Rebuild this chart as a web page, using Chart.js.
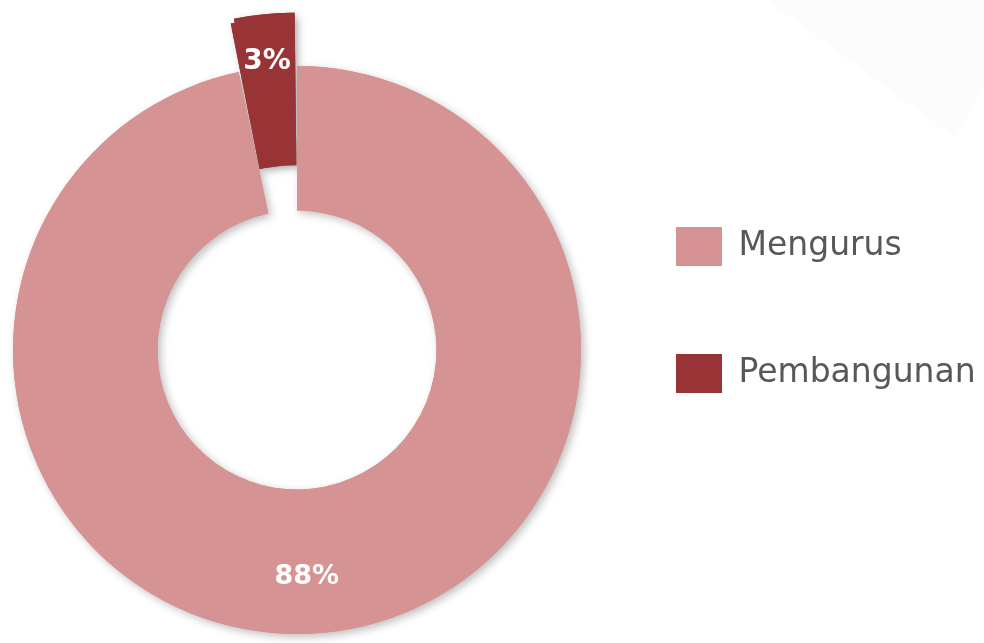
<!DOCTYPE html>
<html>
<head>
<meta charset="utf-8">
<script src="https://cdn.jsdelivr.net/npm/chart.js@4.4.1/dist/chart.umd.min.js"></script>
<style>
  html, body { margin: 0; padding: 0; background: #ffffff; width: 984px; height: 643px; overflow: hidden; }
  #bgShape { position: absolute; left: 0; top: 0; width: 984px; height: 643px;
    background: #fcfcfc; clip-path: polygon(767px 0, 984px 0, 984px 85px, 955px 138px); }
  #wrap { position: absolute; left: 0; top: 0; width: 984px; height: 643px; }
</style>
</head>
<body>
<div id="bgShape"></div>
<div id="wrap"><canvas id="c" width="984" height="643"></canvas></div>
<script>
// ---- data ----
const categories = ['Mengurus', 'Pembangunan'];
const values = [88, 3];
const valueLabels = ['88%', '3%'];
const colors = ['#D59493', '#993436'];

const LEGEND_WIDTH = 396;

const legendWidthPlugin = {
  id: 'legendWidth',
  beforeUpdate(chart) {
    const lg = chart.legend;
    if (lg && !lg._patchedFit) {
      const orig = lg.fit.bind(lg);
      lg.fit = function () { orig(); this.width = LEGEND_WIDTH; };
      lg._patchedFit = true;
    }
  }
};

// draw a shadow pass underneath; the normal draw then covers it cleanly
const shadowPlugin = {
  id: 'ringShadow',
  beforeDatasetsDraw(chart) {
    const ctx = chart.ctx;
    const meta = chart.getDatasetMeta(0);
    ctx.save();
    ctx.shadowColor = 'rgba(0,0,0,0.26)';
    ctx.shadowBlur = 9;
    ctx.shadowOffsetX = 3;
    ctx.shadowOffsetY = 3;
    meta.data.forEach(a => a.draw(ctx));
    ctx.restore();
  }
};

const sliceLabelPlugin = {
  id: 'sliceLabels',
  afterDatasetsDraw(chart, args, opts) {
    const ctx = chart.ctx;
    const meta = chart.getDatasetMeta(0);
    meta.data.forEach((arc, i) => {
      const p = arc.getProps(['x', 'y', 'startAngle', 'endAngle', 'innerRadius', 'outerRadius', 'circumference']);
      const o = arc.options;
      const T = (o.offset || 0) / 4;
      const fix = 1 - Math.sin(Math.min(Math.PI, p.circumference || 0));
      const ro = T * fix;
      const mid = (p.startAngle + p.endAngle) / 2;
      const cx = p.x + Math.cos(mid) * T;
      const cy = p.y + Math.sin(mid) * T;
      const ang = p.startAngle + (p.endAngle - p.startAngle) * opts.angleFrac[i];
      const r = p.innerRadius + ro + (p.outerRadius - p.innerRadius) * opts.radiusFrac[i];
      ctx.save();
      ctx.fillStyle = '#ffffff';
      ctx.font = opts.fonts[i];
      ctx.textAlign = 'center';
      ctx.textBaseline = 'middle';
      ctx.fillText(valueLabels[i], cx + Math.cos(ang) * r, cy + Math.sin(ang) * r);
      ctx.restore();
    });
  }
};

new Chart(document.getElementById('c'), {
  type: 'doughnut',
  data: {
    labels: categories,
    datasets: [{
      data: values,
      backgroundColor: colors,
      borderColor: colors,
      borderWidth: [0, 8],
      borderJoinStyle: 'miter',
      borderAlign: 'center',
      offset: [0, 110],
      hoverOffset: 0,
      clip: false
    }]
  },
  options: {
    responsive: false,
    animation: false,
    events: [],
    radius: 284,
    cutout: '49.1%',
    layout: { padding: { top: 139, bottom: 82, left: 6, right: 0 } },
    plugins: {
      tooltip: { enabled: false },
      legend: {
        position: 'right',
        align: 'start',
        maxWidth: LEGEND_WIDTH,
        labels: {
          boxWidth: 46,
          boxHeight: 39,
          padding: 88,
          color: '#585858',
          font: { family: '"DejaVu Sans", sans-serif', size: 33, weight: 'normal' },
          generateLabels(chart) {
            const items = Chart.overrides.doughnut.plugins.legend.labels.generateLabels(chart);
            items.forEach(it => { it.lineWidth = 0; it.strokeStyle = 'rgba(0,0,0,0)'; });
            return items;
          }
        }
      },
      sliceLabels: {
        angleFrac: [0.51, 0.5],
        radiusFrac: [0.605, 0.70],
        fonts: ['bold 27px "DejaVu Sans", sans-serif', 'bold 28px "DejaVu Sans", sans-serif']
      }
    }
  },
  plugins: [legendWidthPlugin, shadowPlugin, sliceLabelPlugin]
});
</script>
</body>
</html>
